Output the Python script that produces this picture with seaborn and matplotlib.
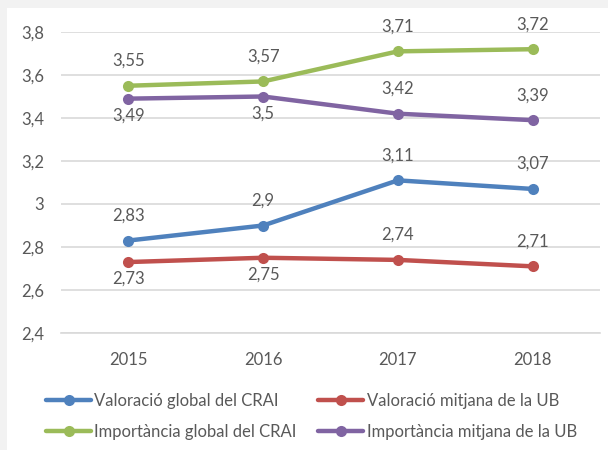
import matplotlib
matplotlib.use("Agg")
import matplotlib.pyplot as plt
import seaborn as sns
import pandas as pd
from matplotlib.patches import Rectangle

years = [2015, 2016, 2017, 2018]
series_names = ["Valoració global del CRAI", "Importància global del CRAI",
                "Valoració mitjana de la UB", "Importància mitjana de la UB"]
valoracio_crai = [2.83, 2.90, 3.11, 3.07]
importancia_crai = [3.55, 3.57, 3.71, 3.72]
valoracio_ub = [2.73, 2.75, 2.74, 2.71]
importancia_ub = [3.49, 3.50, 3.42, 3.39]
y_ticks = [2.4, 2.6, 2.8, 3.0, 3.2, 3.4, 3.6, 3.8]

values = [valoracio_crai, importancia_crai, valoracio_ub, importancia_ub]
colors = ["#4F81BD", "#9BBB59", "#C0504D", "#8064A2"]
label_pos = [["a", "a", "a", "a"], ["a", "a", "a", "a"],
             ["b", "b", "a", "a"], ["b", "b", "a", "a"]]

rows = []
for name, vals in zip(series_names, values):
    for yr, v in zip(years, vals):
        rows.append({"Any": yr, "Valor": v, "Serie": name})
df = pd.DataFrame(rows)

sns.set_theme(style="white")
plt.rcParams["font.family"] = ["Lato", "DejaVu Sans"]
text_color = "#595959"
grid_color = "#D9D9D9"
fs = 12

fig = plt.figure(figsize=(6.08, 4.5), dpi=100)
fig.patch.set_facecolor("#F2F2F2")
fig.patches.append(Rectangle((7 / 608, 0), 1, 1 - 8 / 450, transform=fig.transFigure,
                             facecolor="white", edgecolor="none", zorder=-10))
ax = fig.add_axes([61 / 608, 1 - 333 / 450, (600 - 61) / 608, (333 - 32) / 450])
ax.set_facecolor("white")

sns.lineplot(data=df, x="Any", y="Valor", hue="Serie", hue_order=series_names,
             palette=colors, marker="o", markersize=8, markeredgewidth=0,
             linewidth=3.2, dashes=False, ax=ax, legend=True, zorder=3)

for vals, col, poss in zip(values, colors, label_pos):
    for yr, v, p in zip(years, vals, poss):
        txt = f"{v:g}".replace(".", ",")
        dy = 25 if p == "a" else -17
        ax.annotate(txt, (yr, v), xytext=(0, dy), textcoords="offset pixels",
                    ha="center", va="center", fontsize=fs, color=text_color)

ax.set_xlim(2014.5, 2018.5)
ax.set_ylim(2.4, 3.8)
ax.set_yticks(y_ticks)
ax.set_yticklabels([f"{t:g}".replace(".", ",") for t in y_ticks])
ax.set_xticks(years)
ax.set_xticklabels([str(y) for y in years])
ax.set_xlabel("")
ax.set_ylabel("")
ax.yaxis.grid(True, color=grid_color, linewidth=1.2, zorder=0)
ax.set_axisbelow(True)
for s in ["top", "right", "left"]:
    ax.spines[s].set_visible(False)
ax.spines["bottom"].set_color(grid_color)
ax.spines["bottom"].set_linewidth(1.2)
ax.tick_params(axis="both", length=0, labelsize=fs, labelcolor=text_color)
ax.tick_params(axis="x", pad=14)
ax.tick_params(axis="y", pad=12)

handles, labels = ax.get_legend_handles_labels()
ax.get_legend().remove()
fig.legend(handles, labels, ncol=2, loc="upper left", bbox_to_anchor=(46 / 608, 1 - 393 / 450),
           frameon=False, fontsize=fs, labelcolor=text_color, handlelength=2.7,
           handletextpad=0.2, columnspacing=1.3, labelspacing=0.88, borderaxespad=0,
           borderpad=0)

fig.savefig("out.png", dpi=100, facecolor=fig.get_facecolor())
